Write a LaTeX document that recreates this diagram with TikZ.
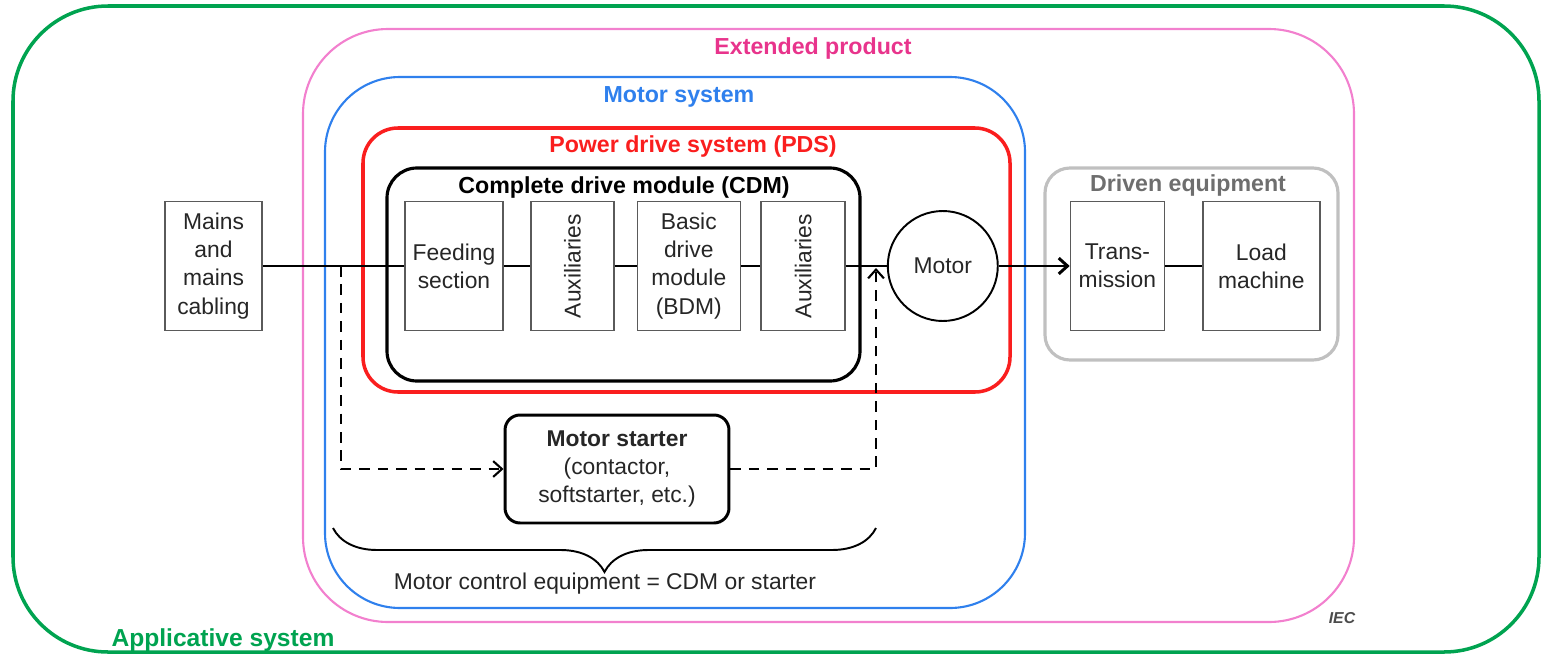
\documentclass[tikz,border=0pt]{standalone}
\usepackage{fontspec}
\setmainfont{Liberation Sans}
\usepackage{graphicx}
\usetikzlibrary{positioning,arrows.meta,decorations.pathreplacing}
\definecolor{appgreen}{RGB}{0,163,80}
\definecolor{extpink}{RGB}{242,128,206}
\definecolor{extpinktext}{RGB}{232,52,140}
\definecolor{motblue}{RGB}{47,128,237}
\definecolor{pdsred}{RGB}{250,30,30}
\definecolor{boxgray}{RGB}{90,90,90}
\definecolor{drivengray}{RGB}{192,192,192}
\definecolor{textgray}{RGB}{110,110,110}
\tikzset{
  base/.style   = {font=\fontsize{13}{16}\selectfont, text=black!85},
  part/.style   = {base, draw=boxgray, line width=0.8pt, rectangle, align=center,
                   minimum height=2.58cm, inner sep=1pt},
  title/.style  = {font=\bfseries\fontsize{13.2}{15}\selectfont},
  frame/.style  = {line width=1.2pt},
  link/.style   = {line width=1.7pt},
  ctrl/.style   = {line width=1.2pt, dash pattern=on 6pt off 4.5pt}
}

\begin{document}
\begin{tikzpicture}[x=0.02cm, y=-0.02cm,
  >={Straight Barb[length=5pt,width=9pt]}]
\useasboundingbox (0,0) rectangle (1542,656);

% nested system frames, outside in
\draw[frame, appgreen, line width=2pt, rounded corners=1.9cm] (13,6) rectangle (1539,652);
\draw[frame, extpink, rounded corners=1.7cm] (303,29) rectangle (1354,622);
\draw[frame, motblue, rounded corners=1.5cm] (325,77) rectangle (1025,608);
\draw[frame, pdsred, line width=2pt, rounded corners=0.7cm] (363,128) rectangle (1010,392);
\draw[frame, line width=1.8pt, rounded corners=0.6cm] (387,168) rectangle (860,381);
\draw[frame, drivengray, line width=1.8pt, rounded corners=0.5cm] (1045,168) rectangle (1338,360);

% frame titles
\node[title, extpinktext] (extlabel) at (813,49) {Extended product};
\node[title, motblue] (motsyslabel) at (679,97) {Motor system};
\node[title, pdsred] (pdslabel) at (693,147) {Power drive system (PDS)};
\node[title] (cdmlabel) at (624,188) {Complete drive module (CDM)};
\node[title, textgray] (drivenlabel) at (1188,186) {Driven equipment};
\node[title, appgreen, font=\bfseries\fontsize{14}{16}\selectfont] (applabel) at (223,640) {Applicative system};

% the power path, left to right
\node[part, minimum width=1.94cm] (mains) at (213.5,266) {Mains\\and\\mains\\cabling};
\node[part, minimum width=1.96cm] (feed) at (454,266) {Feeding\\section};
\node[part, minimum width=1.66cm, right=0.53cm of feed] (aux1) {\rotatebox{90}{Auxiliaries}};
\node[part, minimum width=2.06cm, right=0.44cm of aux1] (bdm) {Basic\\drive\\module\\(BDM)};
\node[part, minimum width=1.68cm, right=0.39cm of bdm] (aux2) {\rotatebox{90}{Auxiliaries}};
\node[base, draw=black, line width=1.1pt, circle, minimum size=2.2cm, inner sep=0pt,
      right=0.82cm of aux2] (motor) {Motor};
\node[part, minimum width=1.88cm, right=1.42cm of motor] (trans) {Trans-\\mission};
\node[part, minimum width=2.34cm, right=0.74cm of trans] (load) {Load\\machine};

\node[base, draw=black, line width=1.7pt, rounded corners=0.3cm, align=center,
      minimum width=4.48cm, minimum height=2.16cm] (starter) at (617,469)
      {\textbf{Motor starter}\\(contactor,\\softstarter, etc.)};

\draw[link] (mains) -- (feed) -- (aux1) -- (bdm) -- (aux2) -- (motor);
\draw[link,->] (motor) -- (trans);
\draw[link] (trans) -- (load);

% starter branch
\coordinate (jl) at (341,266);
\coordinate (jr) at (876,268);
\draw[ctrl,->] (jl) |- (starter.west);
\draw[ctrl,->] (starter.east) -| (jr);

% brace for the control equipment
\coordinate (brl) at (333,528);
\coordinate (brr) at (876,528);
\draw[line width=1.1pt, decorate, decoration={brace, mirror, amplitude=0.88cm}] (brl) -- (brr);
\node[base] (mcelabel) at (605,584) {Motor control equipment = CDM or starter};

\node[font=\itshape\bfseries\fontsize{9}{10}\selectfont, black!70] (ieclabel) at (1342,618) {IEC};

\end{tikzpicture}
\end{document}
